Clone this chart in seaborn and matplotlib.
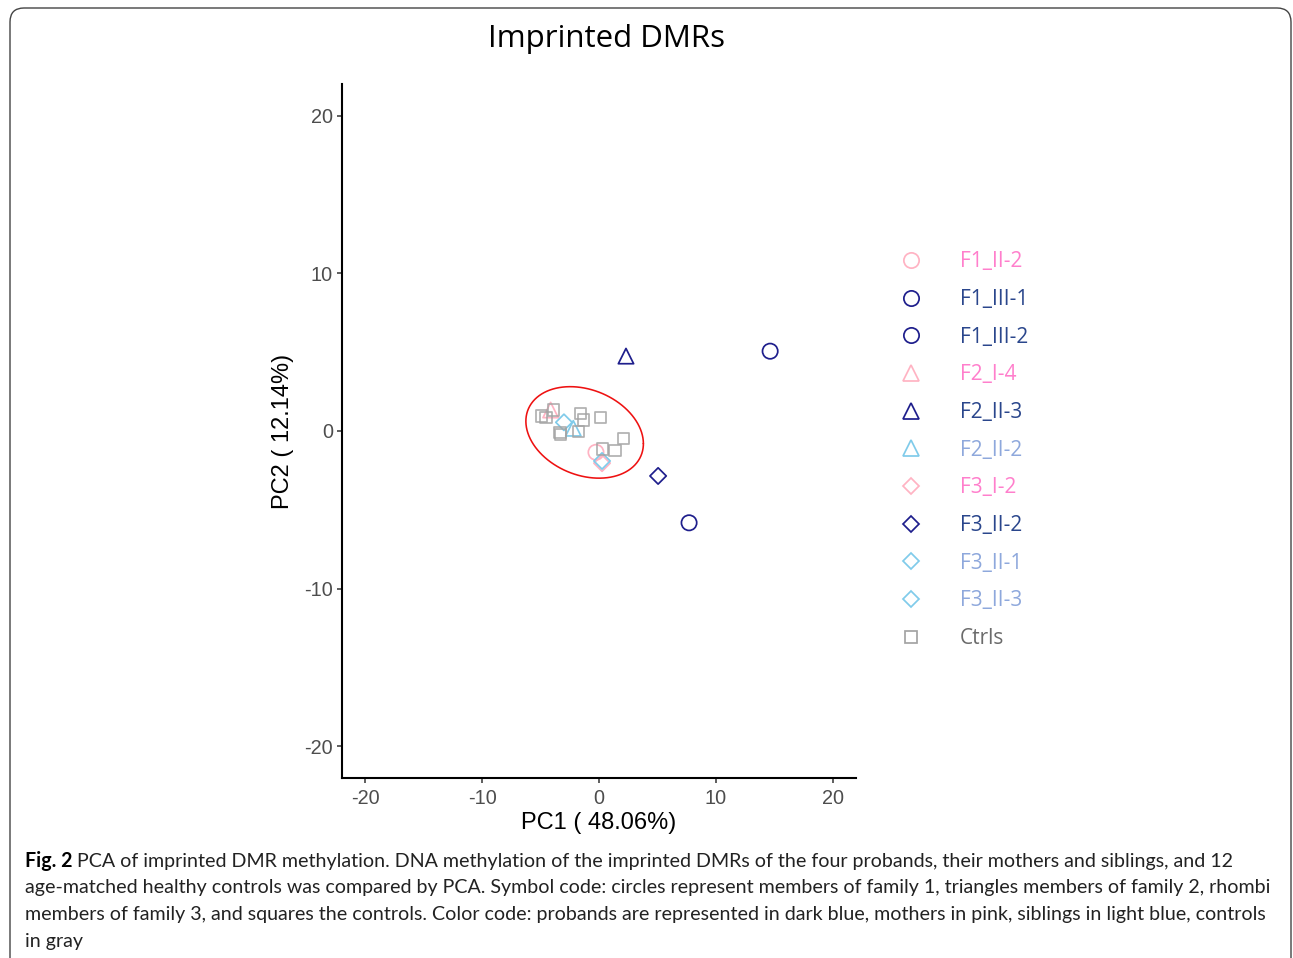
import numpy as np
import pandas as pd
import seaborn as sns
import matplotlib.pyplot as plt
from matplotlib.lines import Line2D
from matplotlib.patches import FancyBboxPatch

# PCA scores
sample_names = ['F1_II-2', 'F1_III-1', 'F1_III-2', 'F2_I-4', 'F2_II-3',
                'F2_II-2', 'F3_I-2', 'F3_II-2', 'F3_II-1', 'F3_II-3']
sample_pc1 = [-0.26, 14.65, 7.71, -4.14, 2.31, -2.2, 0.26, 5.06, -3.0, 0.26]
sample_pc2 = [-1.35, 5.06, -5.82, 1.33, 4.75, 0.17, -2.04, -2.85, 0.55, -1.9]
sample_roles = ['mother', 'proband', 'proband', 'mother', 'proband',
                'sibling', 'mother', 'proband', 'sibling', 'sibling']

ctrl_pc1 = [-4.91, -4.54, -3.91, -3.34, -3.28, -1.57, -1.29, -1.77, 0.14, 2.08, 1.37, 0.29]
ctrl_pc2 = [0.95, 0.87, 1.33, -0.08, -0.21, 1.12, 0.70, -0.04, 0.84, -0.46, -1.25, -1.14]

# ellipse around the control cluster (center, covariance shape)
ellipse_center = [-1.23, -0.09]
ellipse_shape = [[25.3, -3.58], [-3.58, 8.41]]

tick_values = [-20, -10, 0, 10, 20]

caption_lines = [
    'PCA of imprinted DMR methylation. DNA methylation of the imprinted DMRs of the four probands, their mothers and siblings, and 12',
    'age-matched healthy controls was compared by PCA. Symbol code: circles represent members of family 1, triangles members of family 2, rhombi',
    'members of family 3, and squares the controls. Color code: probands are represented in dark blue, mothers in pink, siblings in light blue, controls',
    'in gray',
]

# styles
marker_color = {'mother': '#ffb3c3', 'proband': '#1e1e8c', 'sibling': '#80cbea', 'ctrl': '#a3a3a3'}
text_color = {'mother': '#ff7fcc', 'proband': '#2a468c', 'sibling': '#8ea8dc', 'ctrl': '#6b6b6b'}
family_marker = {'F1': 'o', 'F2': '^', 'F3': 'D', 'Ct': 's'}
marker_size = {'o': 11, '^': 11, 'D': 8.3, 's': 8.0}

df = pd.DataFrame({'sample': sample_names + ['Ctrls'] * len(ctrl_pc1),
                   'PC1': sample_pc1 + ctrl_pc1,
                   'PC2': sample_pc2 + ctrl_pc2,
                   'role': sample_roles + ['ctrl'] * len(ctrl_pc1)})

sns.set_theme(style='ticks')
plt.rcParams['font.family'] = ['Liberation Sans', 'DejaVu Sans']
plt.rcParams['axes.unicode_minus'] = False

W, H = 1293, 958
fig = plt.figure(figsize=(W / 100, H / 100), dpi=100)
ax = fig.add_axes([342 / W, 1 - 778 / H, (856 - 342) / W, (778 - 84) / H])

legend_handles = []
legend_colors = []
for name in df['sample'].unique():
    sub = df[df['sample'] == name]
    role = sub['role'].iloc[0]
    mk = family_marker[name[:2]]
    col = marker_color[role]
    sns.scatterplot(data=sub, x='PC1', y='PC2', ax=ax, marker=mk,
                    s=marker_size[mk] ** 2, color=col, facecolor='none',
                    edgecolor=col, linewidth=1.25,
                    alpha=0.85 if role == 'ctrl' else 1.0, legend=False, zorder=3)
    legend_handles.append(Line2D([], [], marker=mk, linestyle='none',
                                 markerfacecolor='none', markeredgecolor=col,
                                 markersize=marker_size[mk], markeredgewidth=1.25,
                                 label=name))
    legend_colors.append(text_color[role])

# control cluster ellipse
t = np.linspace(0, 2 * np.pi, 300)
L = np.linalg.cholesky(np.array(ellipse_shape))
pts = np.array(ellipse_center)[:, None] + L @ np.vstack([np.cos(t), np.sin(t)])
ax.plot(pts[0], pts[1], color='#ee1111', lw=1.15, zorder=2)

ax.set_xlim(-22, 22)
ax.set_ylim(-22, 22)
ax.set_xticks(tick_values)
ax.set_yticks(tick_values)
sns.despine(ax=ax)
for side in ['left', 'bottom']:
    ax.spines[side].set_linewidth(1.5)
    ax.spines[side].set_color('black')
ax.tick_params(length=3.5, width=1.1, color='#333333', labelcolor='#4d4d4d',
               labelsize=14.3, pad=3)
ax.tick_params(axis='x', pad=4.5)

ax.set_xlabel('PC1 ( 48.06%)', fontsize=17, color='black', va='center')
ax.xaxis.set_label_coords(0.5, (778 - 823) / 694)
ax.set_ylabel('PC2 ( 12.14%)', fontsize=17, color='black', va='center')
ax.yaxis.set_label_coords((283 - 342) / 514, 0.5)

leg = ax.legend(handles=legend_handles, loc='center left',
                bbox_to_anchor=(900.6 / W, 1 - 450 / H),
                bbox_transform=fig.transFigure, frameon=False,
                prop={'family': ['Open Sans', 'DejaVu Sans'], 'size': 15},
                handlelength=1.0, handletextpad=1.85, labelspacing=0.80,
                borderpad=0, borderaxespad=0, labelcolor=legend_colors)

fig.text(606 / W, 1 - 39 / H, 'Imprinted DMRs', ha='center', va='center',
         fontsize=22.5, family=['Open Sans', 'DejaVu Sans'], color='black')

# caption
cap_font = ['Lato', 'DejaVu Sans']
renderer = fig.canvas.get_renderer()
probe_b = fig.text(0, 0, 'Fig. 2 ', fontsize=10, weight='bold', family=cap_font)
probe_r = fig.text(0, 0, caption_lines[0], fontsize=10, family=cap_font)
w10 = (probe_b.get_window_extent(renderer).width +
       probe_r.get_window_extent(renderer).width)
probe_b.remove()
probe_r.remove()
cap_size = 10 * (1237 - 25) / w10

baselines = [867, 893.5, 920.2, 947]
fig_b = fig.text(25 / W, 1 - baselines[0] / H, 'Fig. 2 ', fontsize=cap_size,
                 weight='bold', family=cap_font, va='baseline', color='black')
bw = fig_b.get_window_extent(renderer).width
fig.text((25 + bw) / W, 1 - baselines[0] / H, caption_lines[0], fontsize=cap_size,
         family=cap_font, va='baseline', color='#222222')
for line, yb in zip(caption_lines[1:], baselines[1:]):
    fig.text(25 / W, 1 - yb / H, line, fontsize=cap_size, family=cap_font,
             va='baseline', color='#222222')

# rounded frame around the figure panel
frame = FancyBboxPatch((10, -40), 1281, H - 8 + 40,
                       boxstyle='round,pad=0,rounding_size=14',
                       transform=None, fill=False, ec='#444444', lw=1.0)
fig.add_artist(frame)

fig.savefig('out.png', dpi=100)
